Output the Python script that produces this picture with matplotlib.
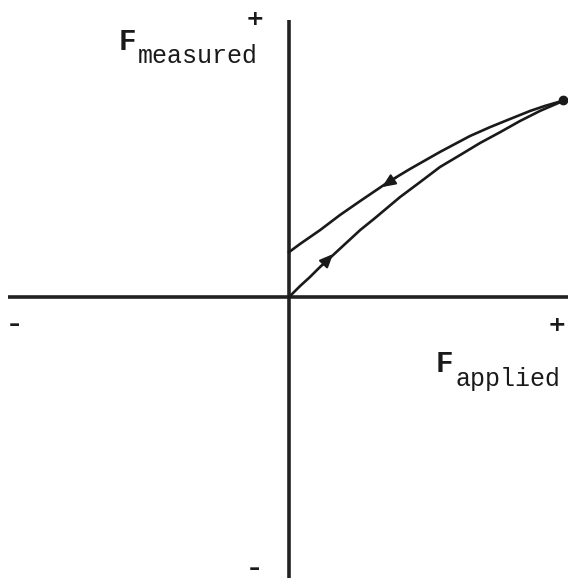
import numpy as np
import matplotlib
matplotlib.use('Agg')
import matplotlib.pyplot as plt

# loading branch (from origin up to the turning point)
load_x = [0.0, 0.039, 0.075, 0.111, 0.146, 0.200, 0.254, 0.307, 0.396,
          0.468, 0.539, 0.611, 0.682, 0.754, 0.825, 0.896, 0.986]
load_y = [0.0, 0.039, 0.072, 0.108, 0.140, 0.190, 0.240, 0.283, 0.358,
          0.412, 0.466, 0.509, 0.552, 0.591, 0.631, 0.667, 0.706]
# unloading branch (back from the turning point to the F_measured axis)
unload_x = [0.986, 0.914, 0.861, 0.789, 0.718, 0.646, 0.539, 0.432, 0.354,
            0.254, 0.182, 0.111, 0.039, 0.0]
unload_y = [0.706, 0.685, 0.667, 0.638, 0.609, 0.577, 0.520, 0.459, 0.412,
            0.344, 0.294, 0.240, 0.190, 0.161]

FONT = 'Liberation Mono'
INK = '#1a1a1a'

fig = plt.figure(figsize=(5.68, 5.78), dpi=100)
ax = fig.add_axes([0, 0, 1, 1])
ax.set_xlim(-1.032, 0.996)
ax.set_ylim(-1.007, 1.0645)
ax.axis('off')

# axes
ax.plot([-1.004, 1.0], [0, 0], color='#222222', lw=2.6, solid_capstyle='butt')
ax.plot([0, 0], [-1.01, 0.993], color='#222222', lw=2.6, solid_capstyle='butt')

# curves
ax.plot(load_x, load_y, color=INK, lw=1.9)
ax.plot(unload_x, unload_y, color=INK, lw=1.9)
ax.plot([load_x[-1] - 0.007], [load_y[-1]], 'o', color=INK, ms=6)

# direction arrows
ax.annotate('', xy=(0.157, 0.154), xytext=(0.120, 0.115),
            arrowprops=dict(arrowstyle='-|>,head_length=0.8,head_width=0.35',
                            color=INK, lw=1.5, shrinkA=0, shrinkB=0))
ax.annotate('', xy=(0.332, 0.394), xytext=(0.385, 0.430),
            arrowprops=dict(arrowstyle='-|>,head_length=0.8,head_width=0.35',
                            color=INK, lw=1.5, shrinkA=0, shrinkB=0))

# sign marks
sign = dict(ha='center', va='center', fontsize=16, family='DejaVu Sans',
            fontweight='bold', color=INK)
ax.text(-0.121, 0.996, '+', **sign)
ax.text(0.957, -0.100, '+', **sign)
ax.text(-0.979, -0.100, '\u2013', **sign)
ax.text(-0.125, -0.975, '\u2013', **sign)

# axis labels (typewriter style)
lab = dict(ha='left', va='baseline', family=FONT, color=INK)
ax.text(-0.610, 0.885, 'F', fontsize=21, fontweight='bold', **lab)
ax.text(-0.539, 0.839, 'measured', fontsize=18, **lab)
ax.text(0.523, -0.269, 'F', fontsize=21, fontweight='bold', **lab)
ax.text(0.593, -0.319, 'applied', fontsize=18, **lab)

fig.savefig('out.png', dpi=100)
